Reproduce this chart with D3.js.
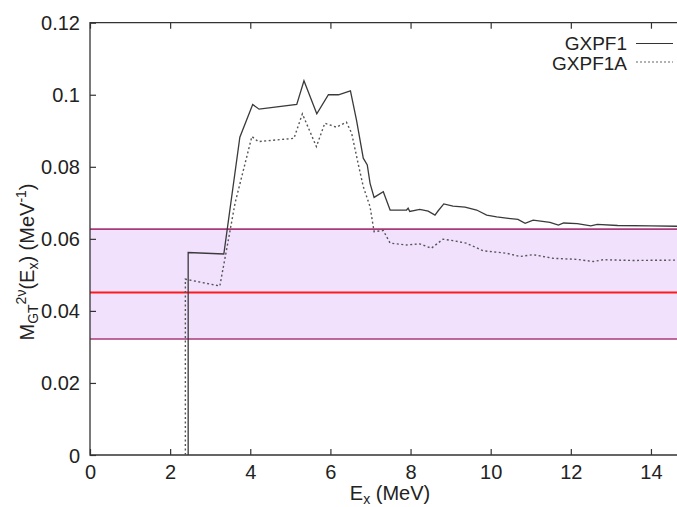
<!DOCTYPE html>
<html><head><meta charset="utf-8">
<script src="https://cdn.jsdelivr.net/npm/d3@7"></script>
<style>body{margin:0;background:#fff}svg{display:block;font-family:"Liberation Sans",Arial,Helvetica,sans-serif}</style>
</head><body><svg id="c" width="677" height="507"></svg>
<script>
// GXPF1 (solid) : [Ex (MeV), M_GT (MeV^-1)]
const gxpf1 = [[2.45,0],[2.45,0.0562],[3.34,0.0558],[3.74,0.0882],[4.06,0.0973],[4.22,0.0960],[5.16,0.0973],[5.34,0.1039],[5.66,0.0947],[5.95,0.1000],[6.20,0.1000],[6.50,0.1011],[6.65,0.0930],[6.82,0.0824],[6.92,0.0805],[6.99,0.0754],[7.09,0.0715],[7.32,0.0731],[7.49,0.0680],[7.90,0.0680],[7.94,0.0685],[7.98,0.0676],[8.23,0.0682],[8.44,0.0677],[8.61,0.0666],[8.69,0.0678],[8.83,0.0697],[9.06,0.0691],[9.36,0.0688],[9.65,0.0680],[9.90,0.0666],[10.15,0.0661],[10.44,0.0657],[10.68,0.0654],[10.86,0.0643],[11.06,0.0652],[11.48,0.0646],[11.69,0.0638],[11.82,0.0644],[12.16,0.0642],[12.50,0.0636],[12.66,0.0640],[13.17,0.0637],[14.0,0.0636],[14.65,0.0635]];
// GXPF1A (dotted)
const gxpf1a = [[2.38,0],[2.38,0.0488],[3.24,0.0469],[3.43,0.0583],[3.62,0.0699],[4.04,0.0884],[4.20,0.0870],[5.09,0.0879],[5.30,0.0947],[5.65,0.0856],[5.86,0.0921],[6.15,0.0910],[6.40,0.0924],[6.53,0.0893],[6.69,0.0810],[6.82,0.0745],[6.99,0.0689],[7.09,0.0620],[7.32,0.0623],[7.49,0.0588],[7.90,0.0583],[8.23,0.0586],[8.52,0.0574],[8.81,0.0599],[9.06,0.0595],[9.39,0.0588],[9.81,0.0567],[10.40,0.0560],[10.73,0.0551],[11.06,0.0556],[11.56,0.0546],[12.16,0.0543],[12.56,0.0537],[12.81,0.0542],[13.55,0.0540],[14.65,0.0541]];
// experimental band and central value
const bandLow = 0.0322, bandHigh = 0.0627, bandCenter = 0.0453;
const xTicks = [0,2,4,6,8,10,12,14];
const yTicks = [0,0.02,0.04,0.06,0.08,0.1,0.12];
const yTickLabels = ["0","0.02","0.04","0.06","0.08","0.1","0.12"];
const seriesNames = ["GXPF1","GXPF1A"];

const svg = d3.select("#c");
const L=90, R=677, T=22.7, B=455;
const x = d3.scaleLinear().domain([0,14.65]).range([L,R]);
const y = d3.scaleLinear().domain([0,0.12]).range([B,T]);
const FS = 20, SS = 14, LFS = 19;

// band
svg.append("rect").attr("x",L).attr("width",R-L).attr("y",y(bandHigh)).attr("height",y(bandLow)-y(bandHigh)).attr("fill","#f1e1fd");
[bandHigh,bandLow].forEach(v=>svg.append("line").attr("x1",L).attr("x2",R).attr("y1",y(v)).attr("y2",y(v)).attr("stroke","#a83a78").attr("stroke-width",1.6));
svg.append("line").attr("x1",L).attr("x2",R).attr("y1",Math.round(y(bandCenter))+0.5).attr("y2",Math.round(y(bandCenter))+0.5).attr("stroke","#ff1a1a").attr("stroke-width",2);

// axes
const gx = svg.append("g").attr("transform",`translate(0,${B})`).call(d3.axisBottom(x).tickValues(xTicks).tickSizeInner(-6).tickSizeOuter(0).tickPadding(10));
const gxt = svg.append("g").attr("transform",`translate(0,${T})`).call(d3.axisTop(x).tickValues(xTicks).tickSizeInner(-6).tickSizeOuter(0).tickFormat(""));
const gy = svg.append("g").attr("transform",`translate(${L},0)`).call(d3.axisLeft(y).tickValues(yTicks).tickFormat((d,i)=>yTickLabels[i]).tickSizeInner(-6).tickSizeOuter(0).tickPadding(10));
[gx,gxt,gy].forEach(g=>{g.select(".domain").remove();g.selectAll("line").attr("stroke","#333").attr("stroke-width",1.2);g.selectAll("text").attr("font-size",FS).attr("fill","#222").attr("font-family","Liberation Sans, Arial, sans-serif");});
gy.selectAll("text").attr("dy","0.35em");
// frame
svg.append("path").attr("d",`M${R+1},${T}H${L}V${B}H${R+1}`).attr("fill","none").attr("stroke","#333").attr("stroke-width",1.3);

// curves
const line = d3.line().x(d=>x(d[0])).y(d=>y(d[1]));
svg.append("path").datum(gxpf1).attr("d",line).attr("fill","none").attr("stroke","#3a3a3a").attr("stroke-width",1.3);
svg.append("path").datum(gxpf1a).attr("d",line).attr("fill","none").attr("stroke","#555").attr("stroke-width",1.4).attr("stroke-dasharray","2,2.5");

// legend
const lg = svg.append("g");
lg.append("text").attr("x",627).attr("y",49.5).attr("text-anchor","end").attr("font-size",LFS).attr("fill","#222").text(seriesNames[0]);
lg.append("line").attr("x1",636).attr("x2",673).attr("y1",43.5).attr("y2",43.5).attr("stroke","#333").attr("stroke-width",1.2);
lg.append("text").attr("x",627).attr("y",69.5).attr("text-anchor","end").attr("font-size",LFS).attr("fill","#222").text(seriesNames[1]);
lg.append("line").attr("x1",636).attr("x2",673).attr("y1",62).attr("y2",62).attr("stroke","#666").attr("stroke-width",1.2).attr("stroke-dasharray","2,2");

// x label
const xl = svg.append("text").attr("x",390).attr("y",500).attr("text-anchor","middle").attr("font-size",FS).attr("fill","#222");
xl.append("tspan").text("E");
xl.append("tspan").attr("font-size",SS).attr("dy",4).text("x");
xl.append("tspan").attr("dy",-4).text(" (MeV)");

// y label
const yl = svg.append("text").attr("transform","translate(34,262) rotate(-90)").attr("text-anchor","middle").attr("font-size",FS).attr("fill","#222");
yl.append("tspan").text("M");
yl.append("tspan").attr("font-size",SS).attr("dy",4).text("GT");
yl.append("tspan").attr("font-size",SS).attr("dy",-12).text("2ν");
yl.append("tspan").attr("dy",8).text("(E");
yl.append("tspan").attr("font-size",SS).attr("dy",4).text("x");
yl.append("tspan").attr("dy",-4).text(") (MeV");
yl.append("tspan").attr("font-size",SS).attr("dy",-8).text("-1");
yl.append("tspan").attr("dy",8).text(")");
</script></body></html>
